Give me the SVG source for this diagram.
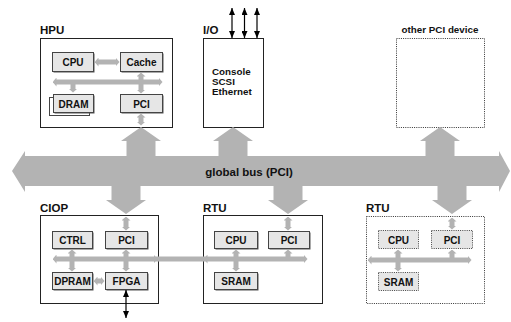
<svg xmlns="http://www.w3.org/2000/svg" width="511" height="322" viewBox="0 0 511 322">
<style>
text{font-family:"Liberation Sans",Arial,sans-serif;font-weight:bold;fill:#111}
.lbl{font-size:11.5px}
.t{font-size:10px;text-anchor:middle}
.outer{fill:#fff;stroke:#222;stroke-width:1}
.dot{fill:#fff;stroke:#333;stroke-width:1;stroke-dasharray:1 1.2}
.box{fill:#e6e6e6;stroke:#444;stroke-width:1}
.sh{fill:#555}
.dbox{fill:#e6e6e6;stroke:#444;stroke-width:1;stroke-dasharray:1 1.2}
.big{fill:#b3b3b3}
.g{stroke:#b3b3b3;stroke-width:5;fill:none}
.gb{stroke:#b3b3b3;stroke-width:5;fill:none;marker-start:url(#ga);marker-end:url(#ga)}
.bk{stroke:#000;stroke-width:1.2;fill:none;marker-start:url(#ba);marker-end:url(#ba)}
</style>
<defs>
<marker id="ga" viewBox="0 0 4 9" markerWidth="4" markerHeight="9" refX="0.5" refY="4.5" orient="auto-start-reverse" markerUnits="userSpaceOnUse"><path d="M0,0 L4,4.5 L0,9 z" fill="#b3b3b3"/></marker>
<marker id="ba" viewBox="0 0 7 6" markerWidth="7" markerHeight="6" refX="7" refY="3" orient="auto-start-reverse" markerUnits="userSpaceOnUse"><path d="M0,0 L7,3 L0,6 z" fill="#000"/></marker>
</defs>
<rect width="511" height="322" fill="#fff"/>

<g id="hpu">
<text class="lbl" x="40" y="34">HPU</text>
<rect class="outer" x="40.5" y="38.5" width="132" height="89"/>
<g id="hpu-cpu"><rect class="sh" x="53.5" y="53.5" width="41" height="19"/><rect class="box" x="52.5" y="52.5" width="41" height="19"/><text class="t" x="73" y="66">CPU</text></g>
<g id="hpu-cache"><rect class="sh" x="121.5" y="53.5" width="42" height="19"/><rect class="box" x="120.5" y="52.5" width="42" height="19"/><text class="t" x="141.5" y="66">Cache</text></g>
<g id="hpu-dram"><rect x="49.5" y="97.5" width="40" height="18" fill="#fff" stroke="#444"/><rect class="sh" x="54.5" y="95.5" width="40" height="18"/><rect class="box" x="53.5" y="94.5" width="40" height="18"/><text class="t" x="73.5" y="107.5">DRAM</text></g>
<g id="hpu-pci"><rect class="sh" x="121.5" y="95.5" width="42" height="18"/><rect class="box" x="120.5" y="94.5" width="42" height="18"/><text class="t" x="141.5" y="107.5">PCI</text></g>
</g>

<g id="io">
<text class="lbl" x="203" y="34">I/O</text>
<rect class="outer" x="203.5" y="38.5" width="60" height="89"/>
<text x="212" y="74.5" style="font-size:9.8px">Console</text>
<text x="212" y="84.5" style="font-size:9.8px">SCSI</text>
<text x="212" y="94.5" style="font-size:9.8px">Ethernet</text>
</g>

<g id="other-pci-device">
<text x="440" y="33" style="font-size:9.8px;text-anchor:middle">other PCI device</text>
<rect class="dot" x="396.5" y="38.5" width="88" height="89"/>
</g>

<g id="ciop">
<text class="lbl" x="40" y="212">CIOP</text>
<rect class="outer" x="40.5" y="215.5" width="118" height="88"/>
<g id="ciop-ctrl"><rect class="sh" x="53.5" y="232.5" width="40" height="17"/><rect class="box" x="52.5" y="231.5" width="40" height="17"/><text class="t" x="72.5" y="244">CTRL</text></g>
<g id="ciop-pci"><rect class="sh" x="106.5" y="232.5" width="42" height="17"/><rect class="box" x="105.5" y="231.5" width="42" height="17"/><text class="t" x="126.5" y="244">PCI</text></g>
<g id="ciop-dpram"><rect class="sh" x="53.5" y="273.5" width="40" height="17"/><rect class="box" x="52.5" y="272.5" width="40" height="17"/><text class="t" x="72.5" y="285">DPRAM</text></g>
<g id="ciop-fpga"><rect class="sh" x="106.5" y="273.5" width="42" height="17"/><rect class="box" x="105.5" y="272.5" width="42" height="17"/><text class="t" x="126.5" y="285">FPGA</text></g>
</g>

<g id="rtu1">
<text class="lbl" x="203" y="212">RTU</text>
<rect class="outer" x="203.5" y="215.5" width="119" height="88"/>
<g id="rtu1-cpu"><rect class="sh" x="215.5" y="232.5" width="43" height="17"/><rect class="box" x="214.5" y="231.5" width="43" height="17"/><text class="t" x="236" y="244">CPU</text></g>
<g id="rtu1-pci"><rect class="sh" x="269.5" y="232.5" width="41" height="17"/><rect class="box" x="268.5" y="231.5" width="41" height="17"/><text class="t" x="289" y="244">PCI</text></g>
<g id="rtu1-sram"><rect class="sh" x="215.5" y="273.5" width="43" height="17"/><rect class="box" x="214.5" y="272.5" width="43" height="17"/><text class="t" x="236" y="285">SRAM</text></g>
</g>

<g id="rtu2">
<text class="lbl" x="366" y="212">RTU</text>
<rect class="dot" x="366.5" y="216.5" width="118" height="87"/>
<g id="rtu2-cpu"><rect class="dbox" x="378.5" y="230.5" width="40" height="18"/><text class="t" x="398.5" y="243.5">CPU</text></g>
<g id="rtu2-pci"><rect class="dbox" x="431.5" y="230.5" width="41" height="18"/><text class="t" x="452" y="243.5">PCI</text></g>
<g id="rtu2-sram"><rect class="dbox" x="378.5" y="272.5" width="40" height="18"/><text class="t" x="398.5" y="285.5">SRAM</text></g>
</g>

<g id="connectors">
<g id="global-bus">
<polygon class="big" points="12,171 25,151 25,156 499,156 499,151 510,171 499,192 499,186 25,186 25,192"/>
<polygon class="big" points="126.5,157 126.5,141 121,141 141,127 161,141 155.5,141 155.5,157"/>
<polygon class="big" points="218.5,157 218.5,141 213,141 233,127 253,141 247.5,141 247.5,157"/>
<polygon class="big" points="425.5,157 425.5,141 420,141 440,127 460,141 454.5,141 454.5,157"/>
<polygon class="big" points="111.5,185 111.5,200 106,200 126,214 146,200 140.5,200 140.5,185"/>
<polygon class="big" points="273.5,185 273.5,200 268,200 288,214 308,200 302.5,200 302.5,185"/>
<polygon class="big" points="437.5,185 437.5,200 432,200 452,214 472,200 466.5,200 466.5,185"/>
<text x="249" y="175.5" style="font-size:11.5px;text-anchor:middle">global bus (PCI)</text>
</g>
<line class="gb" x1="98" y1="62" x2="116" y2="62"/>
<line class="gb" x1="56" y1="82" x2="159" y2="82"/>
<line class="gb" x1="141" y1="76" x2="141" y2="90"/>
<line class="gb" x1="141" y1="117" x2="141" y2="122"/>
<line class="g" x1="73" y1="84" x2="73" y2="89" marker-end="url(#ga)"/>

<line class="g" x1="154" y1="259" x2="207" y2="259"/>
<line class="gb" x1="56" y1="259" x2="154" y2="259"/>
<line class="gb" x1="207" y1="259" x2="304" y2="259"/>
<line class="gb" x1="126" y1="220" x2="126" y2="227"/>
<line class="gb" x1="126" y1="253" x2="126" y2="268"/>
<line class="gb" x1="72" y1="253" x2="72" y2="268"/>
<line class="gb" x1="97" y1="281" x2="101" y2="281"/>

<line class="gb" x1="288" y1="220" x2="288" y2="227"/>
<line class="g" x1="288" y1="253" x2="288" y2="259" marker-start="url(#ga)"/>
<line class="gb" x1="236" y1="253" x2="236" y2="268"/>

<line class="gb" x1="371" y1="260" x2="468" y2="260"/>
<line class="gb" x1="452" y1="221" x2="452" y2="226"/>
<line class="g" x1="452" y1="253" x2="452" y2="260" marker-start="url(#ga)"/>
<line class="gb" x1="398" y1="253" x2="398" y2="268"/>

<line class="bk" x1="232" y1="8" x2="232" y2="38"/>
<line class="bk" x1="244.5" y1="8" x2="244.5" y2="38"/>
<line class="bk" x1="257" y1="8" x2="257" y2="38"/>
<line class="bk" x1="126" y1="290" x2="126" y2="318"/>
</g>
</svg>
